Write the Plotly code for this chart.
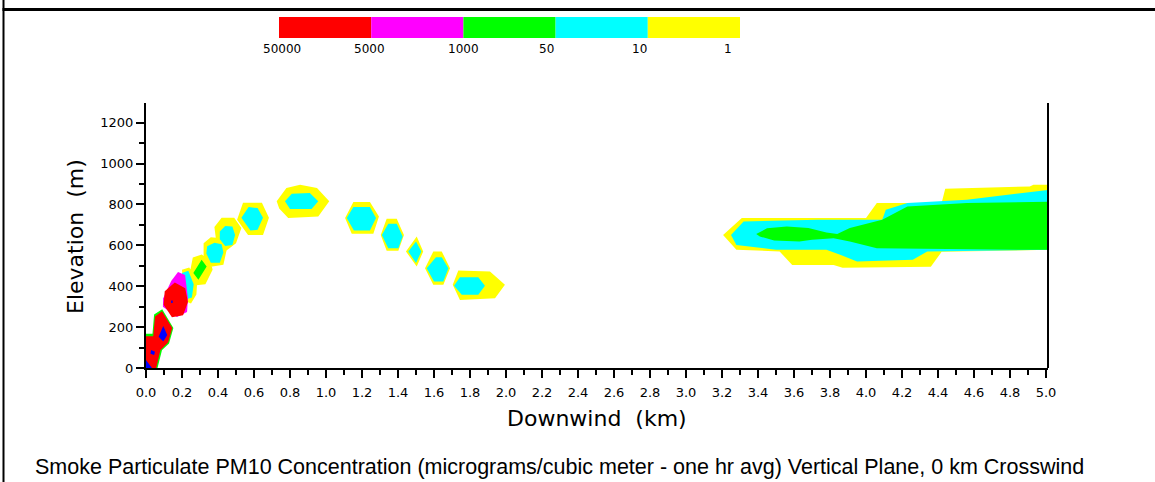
import plotly.graph_objects as go

# ---------------- data ----------------
LEVEL_LABELS = ["50000", "5000", "1000", "50", "10", "1"]
LEVEL_COLORS = ["#ff0000", "#ff00ff", "#00ff00", "#00ffff", "#ffff00"]
BLUE = "#0000ff"

X_TICKS = [round(0.2 * i, 1) for i in range(26)]
Y_TICKS = [0, 200, 400, 600, 800, 1000, 1200]

# contour outlines, (downwind km, elevation m)
# level 1-10 (yellow)
Y_R3 = [(0.20, 480), (0.24, 492), (0.285, 430), (0.28, 360), (0.25, 315), (0.21, 330)]
Y_GD = [(0.26, 540), (0.31, 555), (0.36, 520), (0.37, 480), (0.33, 410), (0.28, 405), (0.24, 450)]
Y_P037 = [(0.32, 610), (0.36, 640), (0.42, 635), (0.45, 585), (0.43, 505), (0.36, 495), (0.32, 540)]
Y_P045 = [(0.38, 690), (0.42, 735), (0.49, 735), (0.53, 685), (0.50, 610), (0.44, 570), (0.39, 620)]
Y_A = [(0.506, 725), (0.539, 808), (0.644, 808), (0.683, 735), (0.65, 651), (0.567, 651)]
Y_B = [(0.726, 815), (0.78, 880), (0.856, 896), (0.95, 880), (1.018, 815), (0.957, 741), (0.79, 733), (0.74, 780)]
Y_C = [(1.106, 733), (1.152, 812), (1.244, 812), (1.294, 741), (1.263, 656), (1.143, 656)]
Y_D = [(1.304, 651), (1.337, 730), (1.393, 730), (1.433, 651), (1.402, 573), (1.337, 573)]
Y_E = [(1.504, 643), (1.54, 570), (1.504, 496), (1.444, 570)]
Y_F = [(1.55, 488), (1.596, 570), (1.643, 570), (1.689, 488), (1.652, 407), (1.596, 407)]
Y_G = [(1.704, 407), (1.735, 477), (1.911, 472), (1.994, 407), (1.939, 341), (1.744, 333)]
Y_RIGHT = [(3.206, 651), (3.31, 733), (4.0, 733), (4.06, 807), (4.42, 807), (4.44, 877),
           (4.91, 888), (4.93, 896), (5.02, 896), (5.02, 578), (4.42, 568), (4.36, 495),
           (3.87, 490), (3.82, 504), (3.59, 504), (3.52, 570), (3.28, 578)]

# level 10-50 (cyan)
C_R3 = [(0.20, 465), (0.235, 475), (0.265, 410), (0.255, 345), (0.22, 335)]
C_P037 = [(0.34, 595), (0.38, 612), (0.42, 605), (0.43, 565), (0.41, 515), (0.36, 515), (0.335, 560)]
C_P045 = [(0.41, 668), (0.44, 695), (0.48, 692), (0.495, 650), (0.48, 602), (0.44, 597), (0.41, 630)]
C_A = [(0.53, 735), (0.57, 787), (0.62, 782), (0.65, 735), (0.62, 676), (0.58, 672)]
C_B = [(0.772, 815), (0.81, 852), (0.91, 856), (0.957, 815), (0.92, 777), (0.80, 777)]
C_C = [(1.115, 733), (1.152, 787), (1.244, 787), (1.278, 733), (1.244, 672), (1.155, 672)]
C_D = [(1.31, 651), (1.346, 705), (1.393, 705), (1.426, 643), (1.402, 586), (1.346, 586)]
C_E = [(1.50, 619), (1.53, 570), (1.50, 513), (1.457, 570)]
C_F = [(1.559, 488), (1.611, 542), (1.643, 542), (1.68, 488), (1.652, 423), (1.60, 423)]
C_G = [(1.711, 402), (1.744, 444), (1.846, 444), (1.883, 402), (1.846, 358), (1.754, 358)]
C_RIGHT = [(3.25, 651), (3.32, 717), (3.73, 725), (4.09, 725), (4.11, 774), (4.23, 807),
           (4.56, 823), (4.93, 864), (5.02, 872), (5.02, 578), (4.34, 570), (4.26, 529),
           (3.95, 521), (3.86, 553), (3.78, 578), (3.50, 578), (3.28, 602)]

# level 50-1000 (green)
G_DIAMOND = [(0.309, 529), (0.337, 496), (0.291, 431), (0.263, 464)]
G_R1 = [(0, 168), (0.06, 168), (0.09, 92), (0.064, 0), (0, 0)]
G_R2 = [(0.045, 262), (0.09, 287), (0.152, 196), (0.128, 120), (0.078, 78), (0.033, 135)]
G_RIGHT = [(3.39, 655), (3.45, 683), (3.56, 692), (3.68, 685), (3.78, 663), (3.84, 655),
           (3.91, 685), (4.09, 725), (4.23, 790), (4.56, 807), (5.02, 813), (5.02, 578),
           (4.86, 578), (4.06, 586), (3.91, 619), (3.82, 635), (3.70, 627), (3.63, 619),
           (3.49, 624), (3.41, 643)]

# level 1000-5000 (magenta)
M_R3 = [(0.14, 425), (0.178, 470), (0.217, 455), (0.233, 343), (0.228, 274), (0.172, 250),
        (0.094, 299), (0.095, 340)]

# level 5000-50000 (red)
R_R1 = [(0, 155), (0.052, 155), (0.08, 88), (0.057, 0), (0, 0)]
R_R2 = [(0.05, 252), (0.089, 277), (0.146, 196), (0.123, 125), (0.078, 86), (0.038, 137)]
R_R3 = [(0.104, 375), (0.16, 418), (0.218, 390), (0.233, 323), (0.206, 258), (0.144, 248), (0.098, 309)]

# above 50000 (blue)
B_R1 = [(0, 39), (0.033, 0), (0, 0)]
B_R1B = [(0.028, 88), (0.05, 80), (0.045, 64), (0.025, 70)]
B_R2 = [(0.096, 206), (0.118, 162), (0.096, 129), (0.07, 153)]
B_R3 = [(0.14, 330), (0.148, 330), (0.148, 318), (0.14, 318)]

LAYERS = [
    (LEVEL_COLORS[4], [Y_R3, Y_GD, Y_P037, Y_P045, Y_A, Y_B, Y_C, Y_D, Y_E, Y_F, Y_G, Y_RIGHT]),
    (LEVEL_COLORS[3], [C_R3, C_P037, C_P045, C_A, C_B, C_C, C_D, C_E, C_F, C_G, C_RIGHT]),
    (LEVEL_COLORS[2], [G_DIAMOND, G_R1, G_R2, G_RIGHT]),
    (LEVEL_COLORS[1], [M_R3]),
    (LEVEL_COLORS[0], [R_R1, R_R2, R_R3]),
    (BLUE, [B_R1, B_R1B, B_R2, B_R3]),
]

# ---------------- layout geometry (pixels) ----------------
W, H = 1155, 482
PL, PR, PT, PB = 146, 1048, 103, 368


def fx(p):
    return (p - PL) / (PR - PL)


def fy(p):
    return (PB - p) / (PB - PT)


fig = go.Figure()

for color, polys in LAYERS:
    xs, ys = [], []
    for poly in polys:
        xs += [p[0] for p in poly] + [poly[0][0], None]
        ys += [p[1] for p in poly] + [poly[0][1], None]
    fig.add_trace(go.Scatter(x=xs, y=ys, mode="lines", fill="toself", fillcolor=color,
                             line=dict(width=0, color=color), hoverinfo="skip",
                             showlegend=False))

shapes = []
annotations = []

# legend boxes
box_left, box_w, box_top, box_bot = 279, 92.2, 17, 38
for i, c in enumerate(LEVEL_COLORS):
    shapes.append(dict(type="rect", xref="paper", yref="paper",
                       x0=fx(box_left + i * box_w), x1=fx(box_left + (i + 1) * box_w),
                       y0=fy(box_bot), y1=fy(box_top), fillcolor=c, line=dict(width=0),
                       layer="above"))
label_centers = [282, 369, 463, 546, 639, 728]
for lab, cx in zip(LEVEL_LABELS, label_centers):
    annotations.append(dict(text=lab, xref="paper", yref="paper", x=fx(cx), y=fy(49),
                            showarrow=False, xanchor="center", yanchor="middle",
                            font=dict(family="DejaVu Sans", size=12, color="black")))

# page frame
shapes.append(dict(type="line", xref="paper", yref="paper", x0=fx(3.5), x1=fx(3.5),
                   y0=fy(0), y1=fy(H), line=dict(color="black", width=2)))
shapes.append(dict(type="line", xref="paper", yref="paper", x0=fx(2.5), x1=fx(W),
                   y0=fy(9.5), y1=fy(9.5), line=dict(color="black", width=3)))
# right border of plot
shapes.append(dict(type="line", xref="paper", yref="paper", x0=1, x1=1,
                   y0=0, y1=1, line=dict(color="black", width=2)))

# axis titles and caption
annotations.append(dict(text="Elevation  (m)", xref="paper", yref="paper", x=fx(75), y=fy(237),
                        showarrow=False, textangle=-90, xanchor="center", yanchor="middle",
                        font=dict(family="DejaVu Sans", size=22, color="black")))
annotations.append(dict(text="Downwind  (km)", xref="paper", yref="paper", x=fx(597), y=fy(418),
                        showarrow=False, xanchor="center", yanchor="middle",
                        font=dict(family="DejaVu Sans", size=22, color="black")))
annotations.append(dict(text="Smoke Particulate PM10 Concentration (micrograms/cubic meter - one hr avg) Vertical Plane, 0 km Crosswind",
                        xref="paper", yref="paper", x=fx(33), y=fy(467), showarrow=False,
                        xanchor="left", yanchor="middle",
                        font=dict(family="Liberation Sans", size=21.5, color="black")))

axis_font = dict(family="DejaVu Sans", size=13, color="black")
fig.update_layout(
    width=W, height=H, autosize=False,
    margin=dict(l=PL, r=W - PR, t=PT, b=H - PB, pad=0),
    paper_bgcolor="white", plot_bgcolor="white",
    shapes=shapes, annotations=annotations,
    xaxis=dict(range=[0, 5.011], tickmode="array", tickvals=X_TICKS,
               ticktext=[f"{v:.1f}" for v in X_TICKS], ticks="outside", ticklen=8,
               tickwidth=1.5, tickcolor="black", showgrid=False, zeroline=False,
               showline=True, linecolor="black", linewidth=2, tickfont=axis_font,
               ticklabelstandoff=3,
               minor=dict(dtick=0.1, tick0=0, ticks="outside", ticklen=5, tickwidth=1.5,
                          tickcolor="black", showgrid=False)),
    yaxis=dict(range=[0, 1296], tickmode="array", tickvals=Y_TICKS,
               ticks="outside", ticklen=8, tickwidth=1.5, tickcolor="black",
               showgrid=False, zeroline=False, showline=True, linecolor="black",
               linewidth=2, tickfont=axis_font,
               minor=dict(dtick=100, tick0=0, ticks="outside", ticklen=5, tickwidth=1.5,
                          tickcolor="black", showgrid=False)),
)

fig.write_html("out.html", config={"displayModeBar": False},
               post_script="document.body.style.margin='0px';document.body.style.overflow='hidden';")
